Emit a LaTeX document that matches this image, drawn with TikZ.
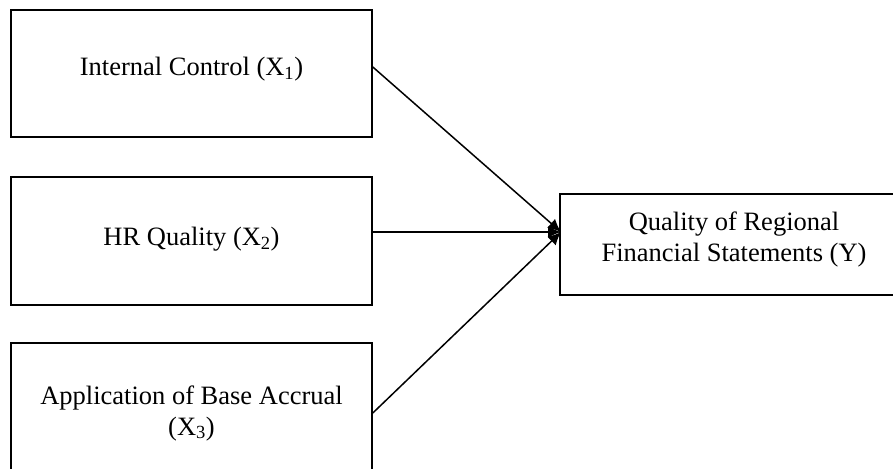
\documentclass[tikz,border=0pt]{standalone}
\usepackage{fontspec}
\setmainfont{Liberation Serif}
\usetikzlibrary{arrows.meta}
\begin{document}
\begin{tikzpicture}[x=1pt,y=-1pt,
  box/.style={draw=black,line width=1.6pt,inner sep=0pt},
  lbl/.style={font=\fontsize{26.5}{31}\selectfont,align=center,inner sep=0pt},
  conn/.style={line width=1.5pt,-{Latex[length=13pt,width=12pt]}}]
\useasboundingbox (0,0) rectangle (893,468);
\begin{scope}
\clip (0,0) rectangle (893,468);
\node[box,minimum width=361pt,minimum height=127pt] (b1) at (191.5,73.5) {};
\node[box,minimum width=361pt,minimum height=128pt] (b2) at (191.5,241) {};
\node[box,minimum width=361pt,minimum height=130pt] (b3) at (191.5,408) {};
\node[box,minimum width=348pt,minimum height=101pt] (y) at (734,244.5) {};
\end{scope}
\node[lbl] (t1) at (191.5,69) {Internal Control (X\textsubscript{1})};
\node[lbl] (t2) at (191.5,239) {HR Quality (X\textsubscript{2})};
\node[lbl] (t3) at (191.5,413) {Application of Base Accrual\\(X\textsubscript{3})};
\node[lbl] (ty) at (734,239) {Quality of Regional\\Financial Statements (Y)};
\coordinate (tip) at (561,232);
\draw[conn] ([yshift=6.5pt]b1.east) -- (tip);
\draw[conn] ([yshift=9pt]b2.east) -- (tip);
\draw[conn] ([yshift=-5pt]b3.east) -- (tip);
\end{tikzpicture}
\end{document}
